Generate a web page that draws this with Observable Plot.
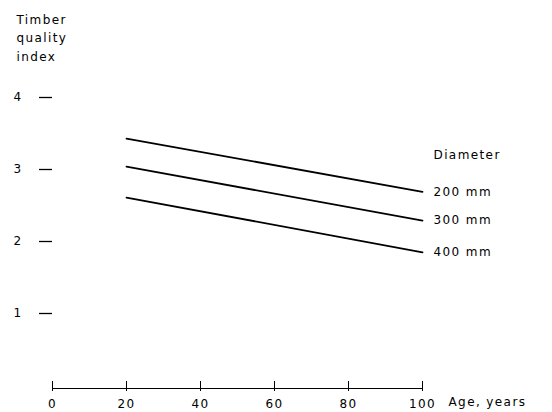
<!DOCTYPE html>
<html>
<head>
<meta charset="utf-8">
<script src="https://cdn.jsdelivr.net/npm/d3@7"></script>
<script src="https://cdn.jsdelivr.net/npm/@observablehq/plot@0.6"></script>
<style>
  html, body { margin: 0; padding: 0; background: #fff; }
  #chart svg text { letter-spacing: 1.4px; }
</style>
</head>
<body>
<div id="chart"></div>
<script>
// Data
const ages = [20, 100];
const diameters = ["200 mm", "300 mm", "400 mm"];
const quality200 = [3.43, 2.69];
const quality300 = [3.04, 2.29];
const quality400 = [2.61, 1.85];
const xTicks = [0, 20, 40, 60, 80, 100];
const yTicks = [1, 2, 3, 4];
const yTitle = "Timber\nquality\nindex";
const xTitle = "Age, years";
const legendTitle = "Diameter";

const seriesValues = [quality200, quality300, quality400];
const rows = [];
diameters.forEach((d, i) => ages.forEach((a, j) => rows.push({diameter: d, age: a, quality: seriesValues[i][j]})));
const ends = rows.filter(r => r.age === ages[ages.length - 1]);

const font = "DejaVu Sans, sans-serif";

const chart = Plot.plot({
  width: 552,
  height: 412,
  marginLeft: 52,
  marginRight: 130,
  marginTop: 97,
  marginBottom: 27,
  style: {fontFamily: font, fontSize: "12px", color: "#000", background: "#fff"},
  x: {domain: [0, 100]},
  y: {domain: [0, 4]},
  marks: [
    // y axis: labels and short dashes
    Plot.axisY(yTicks, {tickSize: 13, tickPadding: 17, tickFormat: "d", strokeWidth: 1.3, fontSize: 12, label: null}),
    // x axis line
    Plot.ruleY([0], {x1: 0, x2: 100, dy: 3, strokeWidth: 1.2}),
    // x ticks crossing the axis line
    Plot.axisX(xTicks, {tickSize: 10, dy: -4, text: null, label: null, strokeWidth: 1}),
    // x tick labels
    Plot.axisX(xTicks, {tickSize: 0, tickPadding: 14, tickFormat: "d", fontSize: 12, label: null}),
    // x axis title
    Plot.text([xTitle], {frameAnchor: "bottom-right", textAnchor: "start", dx: 26, dy: 20, fontSize: 12}),
    // y axis title
    Plot.text([yTitle], {frameAnchor: "top-left", textAnchor: "start", lineAnchor: "top", dx: -36, dy: -87, fontSize: 12, lineHeight: 1.55}),
    // lines
    Plot.line(rows, {x: "age", y: "quality", z: "diameter", stroke: "#000", strokeWidth: 1.8}),
    // labels at the line ends
    Plot.text(ends, {x: "age", y: "quality", text: "diameter", textAnchor: "start", dx: 11, dy: 0, fontSize: 12}),
    Plot.text(ends.slice(0, 1), {x: "age", y: "quality", text: () => legendTitle, textAnchor: "start", dx: 11, dy: -37, fontSize: 12})
  ]
});
document.getElementById("chart").appendChild(chart);
</script>
</body>
</html>
